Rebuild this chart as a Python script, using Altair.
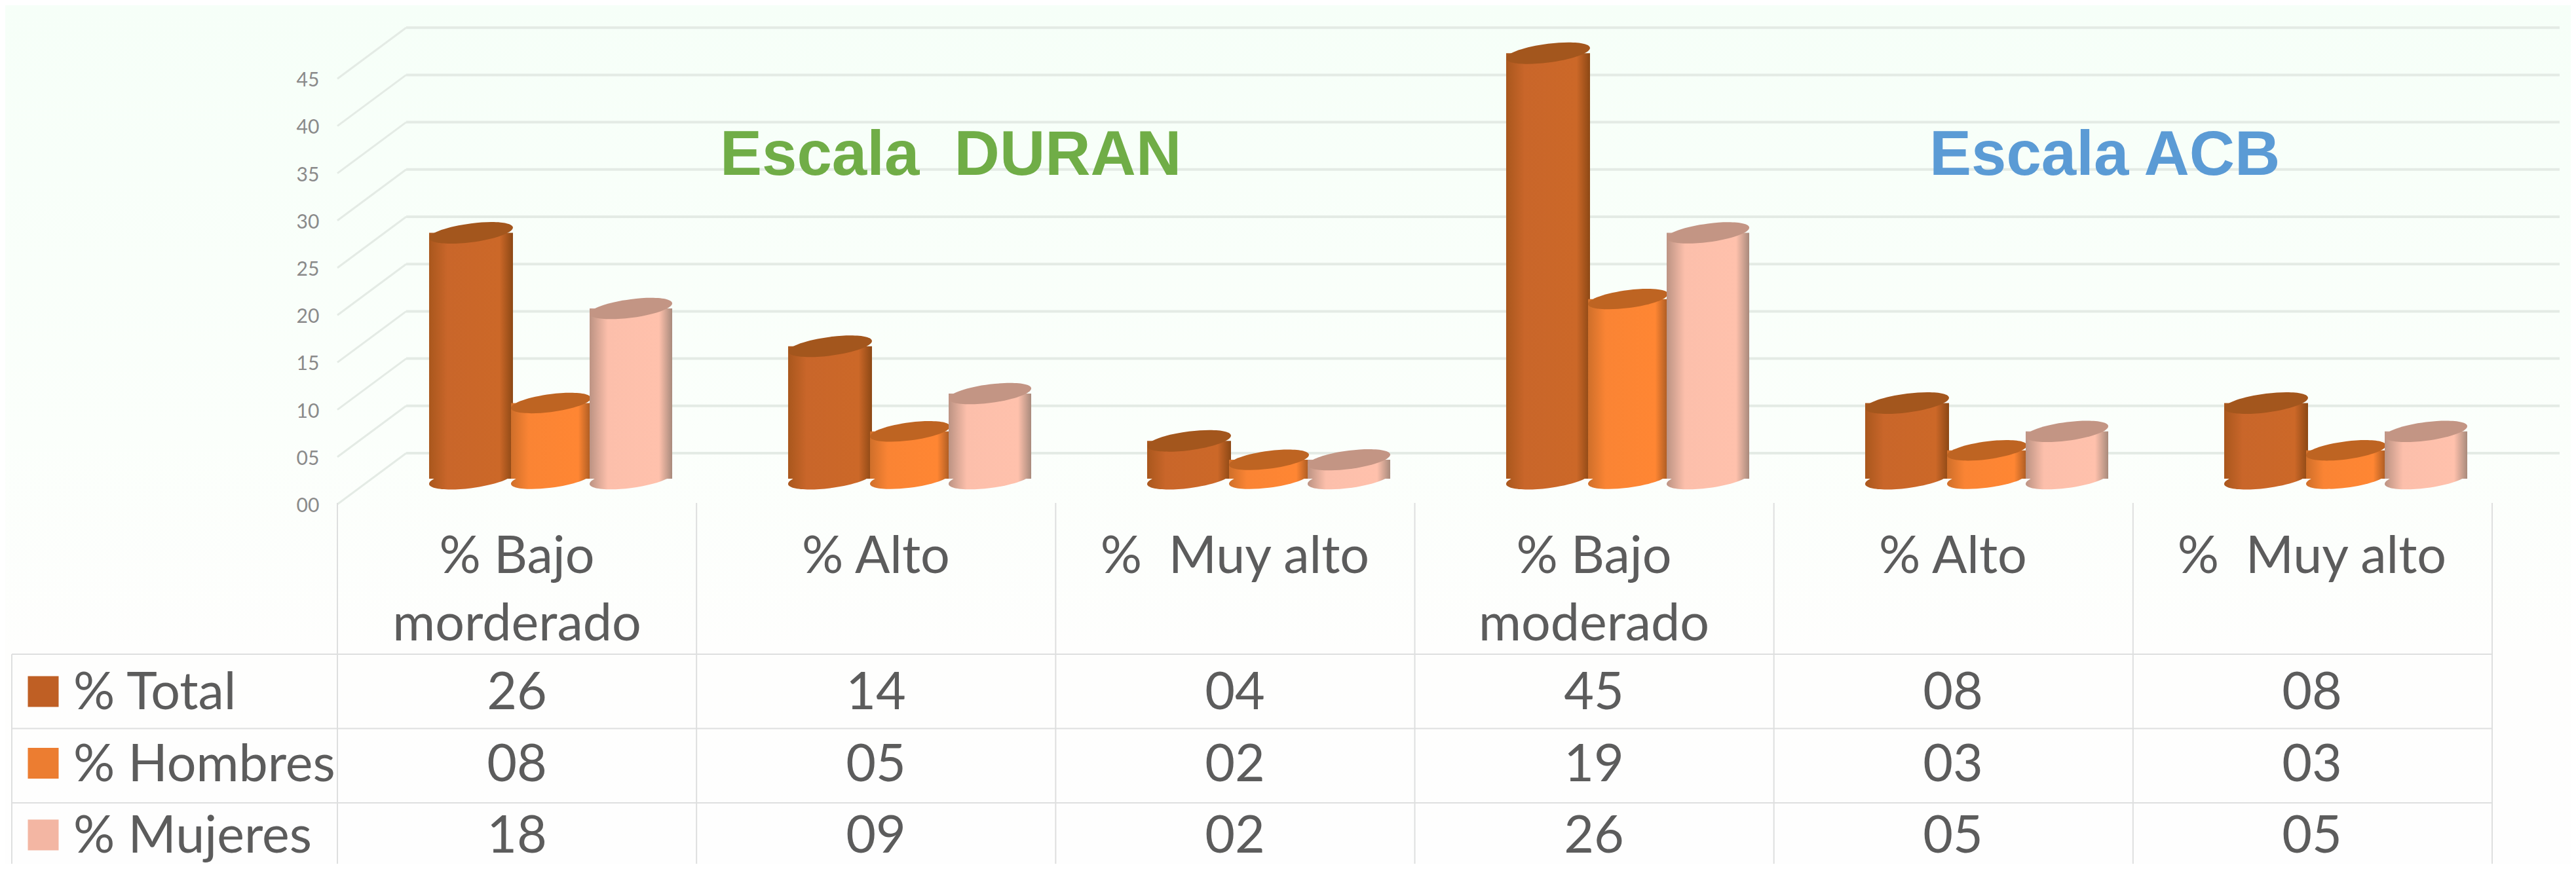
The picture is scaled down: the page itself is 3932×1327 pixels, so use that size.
import altair as alt
import pandas as pd

# ---- data ----
group = ["DURAN", "DURAN", "DURAN", "ACB", "ACB", "ACB"]
headers = ["% Bajo\nmorderado", "% Alto", "%\u00a0\u00a0Muy alto", "% Bajo\nmoderado", "% Alto", "%\u00a0\u00a0Muy alto"]
series = ["% Total", "% Hombres", "% Mujeres"]
total = [26, 14, 4, 45, 8, 8]
hombres = [8, 5, 2, 19, 3, 3]
mujeres = [18, 9, 2, 26, 5, 5]
cell_text = {
    "% Total": ["26", "14", "04", "45", "08", "08"],
    "% Hombres": ["08", "05", "02", "19", "03", "03"],
    "% Mujeres": ["18", "09", "02", "26", "05", "05"],
}
ticks = [0, 5, 10, 15, 20, 25, 30, 35, 40, 45]
tick_labels = ["00", "05", "10", "15", "20", "25", "30", "35", "40", "45"]

# ---- styles ----
W, H = 3916, 1311
TEXT = "#5C5C5C"
GRID = "#E4EBE5"
TABLE = "#DEDFDF"
swatch = {"% Total": "#BF5F24", "% Hombres": "#EC7D31", "% Mujeres": "#F3B6A3"}
lid = {"% Total": "#A3561D", "% Hombres": "#BE6422", "% Mujeres": "#C39584"}
bar_w = {"% Total": 128, "% Hombres": 122, "% Mujeres": 126}
body = {
    "% Total": ["#A9571D", "#C9662A", "#CC6828", "#8C4815"],
    "% Hombres": ["#CF6F2A", "#FA8434", "#FF8633", "#A85A22"],
    "% Mujeres": ["#BC9383", "#FCBFAB", "#FFC1AC", "#A88A7C"],
}
DEPTH = 2.7  # half depth of the floor, in value units

keys = [f"{g}{i}" for i, g in enumerate(group)]
rows = []
for name, vals in zip(series, [total, hombres, mujeres]):
    for k, v, t in zip(keys, vals, cell_text[name]):
        rows.append({"cat": k, "series": name, "value": v, "zero": 0, "cell": t})
df = pd.DataFrame(rows)
hdr = pd.DataFrame({"cat": keys, "label": headers})
tick_df = pd.DataFrame({"v": ticks, "label": tick_labels})
tick_df["front"] = tick_df["v"] - DEPTH
tick_df["back"] = tick_df["v"] + DEPTH

y_scale = alt.Scale(domain=[(723 - H) / 14.44, 723 / 14.44], range=[H, 0], zero=False, nice=False)
x_bars = alt.Scale(domain=keys, range=[559, 3847], paddingInner=0.332, paddingOuter=0.166)
x_front = alt.Scale(domain=keys, range=[507, 3795], paddingInner=0, paddingOuter=0)
off_band = alt.Scale(domain=series, paddingInner=0, paddingOuter=0)
off_point = alt.Scale(domain=series, type="point", padding=0.5)
row_y = alt.Scale(domain=series, range=[1075, 1294], padding=0)


def Y(f):
    return alt.Y(f, scale=y_scale, axis=None)


def ellipse_path(s=0.125, b=0.225):
    k = 0.5523

    def p(c, t):
        return f"{c:.4f},{(-s * c + b * t):.4f}"

    return (
        f"M{p(1, 0)}C{p(1, k)} {p(k, 1)} {p(0, 1)}"
        f"C{p(-k, 1)} {p(-1, k)} {p(-1, 0)}"
        f"C{p(-1, -k)} {p(-k, -1)} {p(0, -1)}"
        f"C{p(k, -1)} {p(1, -k)} {p(1, 0)}Z"
    )


ELL = ellipse_path()


def grad(name):
    c = body[name]
    return alt.Gradient(
        gradient="linear", x1=0, x2=1, y1=0, y2=0,
        stops=[
            alt.GradientStop(offset=0, color=c[0]),
            alt.GradientStop(offset=0.22, color=c[1]),
            alt.GradientStop(offset=0.84, color=c[2]),
            alt.GradientStop(offset=1, color=c[3]),
        ],
    )


one = alt.Data(values=[{"a": 1}])

background = alt.Chart(one).mark_rect(
    fill=alt.Gradient(
        gradient="linear", x1=0, x2=0, y1=0, y2=1,
        stops=[
            alt.GradientStop(offset=0, color="#F6FFF8"),
            alt.GradientStop(offset=0.5, color="#FBFFFB"),
            alt.GradientStop(offset=0.75, color="#FEFEFD"),
            alt.GradientStop(offset=1, color="#FEFEFE"),
        ],
    )
).encode(x=alt.value(0), x2=alt.value(W), y=alt.value(0), y2=alt.value(H))

grid = alt.Chart(tick_df).mark_rule(color=GRID, strokeWidth=4).encode(
    x=alt.value(612), x2=alt.value(3899), y=Y("back:Q")
)
diag = alt.Chart(tick_df).mark_rule(color=GRID, strokeWidth=3).encode(
    x=alt.value(507), x2=alt.value(612), y=Y("front:Q"), y2=alt.Y2("back:Q")
)
tick_text = alt.Chart(tick_df).mark_text(
    font="Lato", fontSize=30, color="#8A8A8A", align="center", baseline="middle", dy=3
).encode(x=alt.value(462), y=Y("front:Q"), text="label:N")

bars = []
for name in series:
    d = df[df["series"] == name]
    X = alt.X("cat:N", scale=x_bars, axis=None)
    w = bar_w[name]
    base = alt.Chart(d).mark_point(
        shape=ELL, size=w * w, filled=True, fill=grad(name), opacity=1, strokeOpacity=0
    ).encode(x=X, xOffset=alt.XOffset("series:N", scale=off_point), y=Y("zero:Q"))
    col = alt.Chart(d).mark_bar(size=w, fill=grad(name)).encode(
        x=X,
        xOffset=alt.XOffset("series:N", scale=off_band),
        y=alt.Y("value:Q", scale=y_scale, axis=None, stack=None),
        y2=alt.Y2("zero:Q"),
    )
    top = alt.Chart(d).mark_point(
        shape=ELL, size=w * w, filled=True, fill=lid[name], opacity=1, strokeOpacity=0
    ).encode(x=X, xOffset=alt.XOffset("series:N", scale=off_point), y=Y("value:Q"))
    bars += [base, col, top]

title_duran = alt.Chart(pd.DataFrame({"t": ["Escala\u00a0\u00a0DURAN"]})).mark_text(
    font="Liberation Sans", fontWeight="bold", fontSize=96, color="#70AD47", align="left", baseline="alphabetic"
).encode(x=alt.value(1091), y=alt.value(259), text="t:N")
title_acb = alt.Chart(pd.DataFrame({"t": ["Escala ACB"]})).mark_text(
    font="Liberation Sans", fontWeight="bold", fontSize=96, color="#5B9BD5", align="left", baseline="alphabetic"
).encode(x=alt.value(2937), y=alt.value(259), text="t:N")

# table grid
vlines = alt.Chart(pd.DataFrame({"col": list(range(7))})).mark_rule(color=TABLE, strokeWidth=2).encode(
    x=alt.X("col:Q", scale=alt.Scale(domain=[0, 6], range=[507, 3796]), axis=None),
    y=alt.value(760), y2=alt.value(H),
)
left_line = alt.Chart(one).mark_rule(color=TABLE, strokeWidth=2).encode(
    x=alt.value(10), y=alt.value(991), y2=alt.value(H)
)
hlines = alt.Chart(pd.DataFrame({"r": [0, 1, 2]})).mark_rule(color=TABLE, strokeWidth=2).encode(
    x=alt.value(10), x2=alt.value(3796),
    y=alt.Y("r:Q", scale=alt.Scale(domain=[0, 2], range=[991, 1218]), axis=None),
)

header_text = alt.Chart(hdr).mark_text(
    font="Lato", fontSize=79, color=TEXT, align="center", baseline="alphabetic", lineBreak="\n", lineHeight=103
).encode(x=alt.X("cat:N", scale=x_front, axis=None), y=alt.value(867), text="label:N")

cells = alt.Chart(df).mark_text(
    font="Lato", fontSize=79, color=TEXT, align="center", baseline="alphabetic"
).encode(
    x=alt.X("cat:N", scale=x_front, axis=None),
    y=alt.Y("series:N", scale=row_y, axis=None),
    text="cell:N",
)
leg_df = pd.DataFrame({"series": series})
leg_text = alt.Chart(leg_df).mark_text(
    font="Lato", fontSize=79, color=TEXT, align="left", baseline="alphabetic"
).encode(x=alt.value(104), y=alt.Y("series:N", scale=row_y, axis=None), text="series:N")
leg_sw = alt.Chart(leg_df).mark_point(
    shape="square", filled=True, size=47 * 47, opacity=1, strokeOpacity=0, yOffset=-27
).encode(
    x=alt.value(58),
    y=alt.Y("series:N", scale=row_y, axis=None),
    fill=alt.Fill("series:N", scale=alt.Scale(domain=series, range=[swatch[s] for s in series]), legend=None),
)

chart = alt.layer(
    background, grid, diag, tick_text, vlines, left_line, hlines,
    *bars,
    title_duran, title_acb, header_text, cells, leg_text, leg_sw,
).resolve_scale(x="independent", y="independent", fill="independent", xOffset="independent").properties(
    width=W, height=H, padding=0, autosize=alt.AutoSizeParams(type="none"), background="white"
).configure_view(stroke=None)

chart.save("out.html", embed_options={"renderer": "svg", "actions": False})
